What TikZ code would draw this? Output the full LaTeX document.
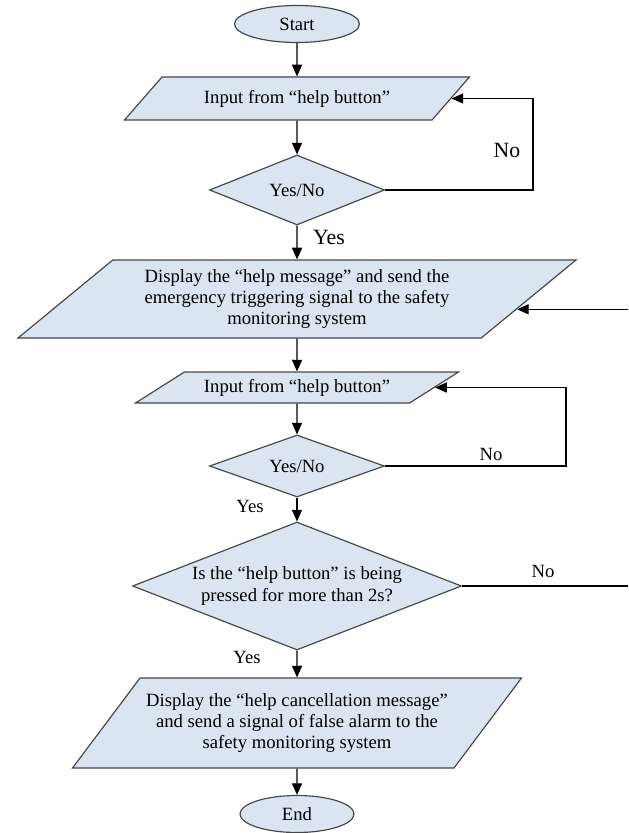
\documentclass[tikz,border=0pt]{standalone}
\usepackage{fontspec}
\setmainfont{Liberation Serif}
\usetikzlibrary{shapes.geometric,arrows.meta,calc}
\definecolor{boxfill}{RGB}{219,229,241}
\definecolor{boxline}{RGB}{70,70,70}
\def\pxu{0.643pt}

\begin{document}
\begin{tikzpicture}[
            x=0.643pt, y=-0.643pt,
            font=\fontsize{12}{13.8}\selectfont,
            base/.style={draw=boxline, fill=boxfill, line width=0.75pt, align=center},
            terminal/.style={base, ellipse, inner sep=0pt},
            io/.style={base, trapezium, trapezium stretches body, inner xsep=-15pt, inner ysep=2pt},
            decision/.style={base, diamond, aspect=2.6, inner sep=0pt},
            arrow/.style={-{Triangle[length=7.5pt,width=6.5pt]}, line width=0.75pt},
            line/.style={line width=0.75pt},
            biglabel/.style={font=\fontsize{14}{16}\selectfont}
        ]
            \useasboundingbox (0,0) rectangle (628,833);

            % Nodes
            \node[terminal, minimum width=125*\pxu, minimum height=37*\pxu] (start) at (297,24) {Start};
            \node[io, trapezium left angle=31.9, trapezium right angle=148.1, minimum width=345*\pxu, minimum height=43*\pxu] (in1) at (297,98.5) {Input from “help button”};
            \node[decision, minimum width=175*\pxu, minimum height=70*\pxu] (dec1) at (297,190) {Yes/No};
            \node[io, trapezium left angle=34.9, trapezium right angle=145.1, minimum width=558*\pxu, minimum height=78*\pxu] (disp1) at (297,299) {Display the “help message” and send the\\emergency triggering signal to the safety\\monitoring system};
            \node[io, trapezium left angle=25.5, trapezium right angle=154.5, minimum width=323*\pxu, minimum height=31*\pxu] (in2) at (297,387.5) {Input from “help button”};
            \node[decision, minimum width=175*\pxu, minimum height=62*\pxu] (dec2) at (297,466) {Yes/No};
            \node[decision, minimum width=329*\pxu, minimum height=128*\pxu] (dec3) at (297,586) {Is the “help button” is being\\pressed for more than 2s?};
            \node[io, trapezium left angle=44.4, trapezium right angle=135.6, minimum width=449*\pxu, minimum height=90*\pxu] (disp2) at (297,723) {Display the “help cancellation message”\\and send a signal of false alarm to the\\safety monitoring system};
            \node[terminal, minimum width=114*\pxu, minimum height=37*\pxu] (end) at (297,814) {End};

            % Bends and free ends
            \coordinate (loop1) at (533,150);
            \coordinate (loop2) at (566,430);
            \coordinate (edge) at (628,0);
            \coordinate (d1r) at ($(disp1.bottom right corner)!0.37!(disp1.top right corner)$);

            % Labels
            \node[biglabel] (no1) at (507,150) {No};
            \node[biglabel] (yes1) at (329,237) {Yes};
            \node (no2) at (491,454) {No};
            \node (yes2) at (250,506) {Yes};
            \node (no3) at (543,571) {No};
            \node (yes3) at (247,657) {Yes};

            % Arrows
            \draw[arrow] (start) -- (in1);
            \draw[arrow] (in1) -- (dec1);
            \draw[arrow] (dec1) -- (disp1);
            \draw[arrow] (disp1) -- (in2);
            \draw[arrow] (in2) -- (dec2);
            \draw[arrow] (dec2) -- (dec3);
            \draw[arrow] (dec3) -- (disp2);
            \draw[arrow] (disp2) -- (end);
            \draw[arrow] (dec1.east) -| (loop1) |- (in1.east);
            \draw[arrow] (dec2.east) -| (loop2) |- (in2.east);
            \draw[arrow] (d1r -| edge) -- (d1r);
            \draw[line] (dec3.east) -- (dec3.east -| edge);
        \end{tikzpicture}
\end{document}
